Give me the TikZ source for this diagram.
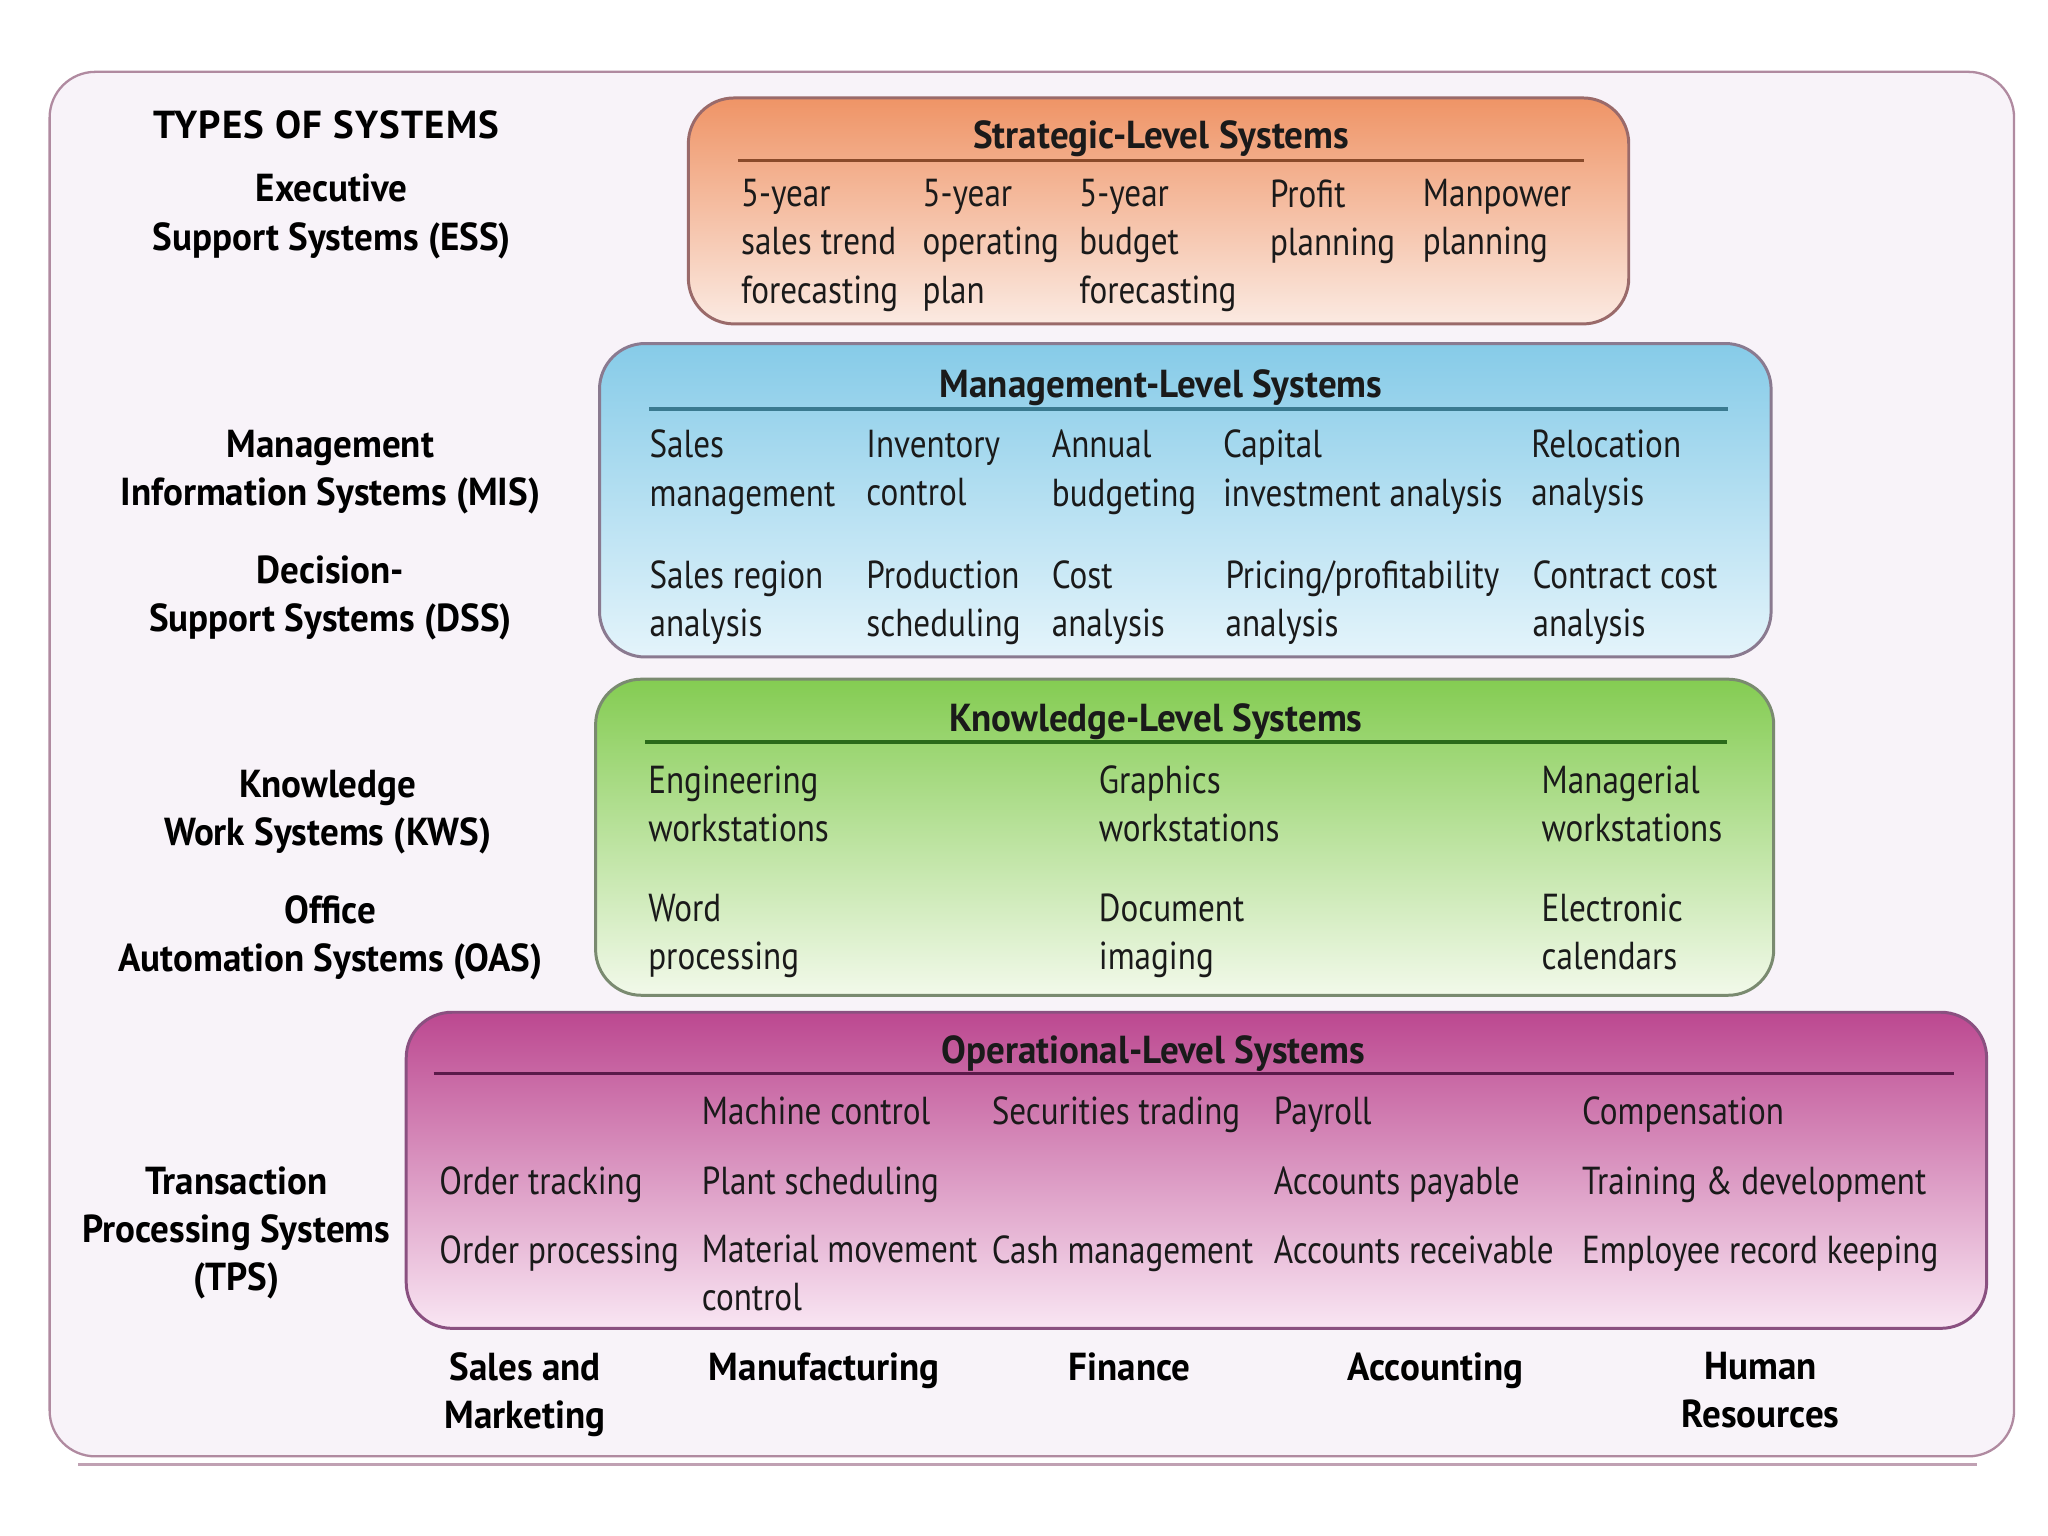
\documentclass[tikz,border=0pt]{standalone}
\usepackage{fontspec}
\setmainfont[FakeStretch=0.85]{PT Sans}
\newfontfamily\bfam[FakeStretch=0.95]{PT Sans}
\newfontfamily\tfam[FakeStretch=1.0,LetterSpace=3]{PT Sans}
\definecolor{frameFill}{HTML}{F8F3F9}
\definecolor{frameEdge}{HTML}{B08AA0}
\definecolor{strT}{HTML}{EF9466}
\definecolor{strB}{HTML}{FBEAE2}
\definecolor{strE}{HTML}{9A6A6A}
\definecolor{strR}{HTML}{8A4A2A}
\definecolor{mgtT}{HTML}{86CBE8}
\definecolor{mgtB}{HTML}{E4F4FB}
\definecolor{mgtE}{HTML}{8A7A90}
\definecolor{mgtR}{HTML}{3A7A90}
\definecolor{knoT}{HTML}{84CC52}
\definecolor{knoB}{HTML}{F2F9EA}
\definecolor{knoE}{HTML}{7A8A70}
\definecolor{knoR}{HTML}{2A6A1A}
\definecolor{opsT}{HTML}{BC4890}
\definecolor{opsM}{HTML}{DC94C6}
\definecolor{opsB}{HTML}{F9E6F3}
\definecolor{opsE}{HTML}{8A5080}
\definecolor{opsR}{HTML}{5A1A4A}
\definecolor{ink}{HTML}{1A1A1A}
\newcommand\itemfont{\fontsize{17}{21}\selectfont}
\newcommand\boldfont{\bfam\fontsize{17}{21}\selectfont\bfseries}
\newcommand\typesfont{\tfam\fontsize{17}{21}\selectfont\bfseries}
\begin{document}
\begin{tikzpicture}[x=0.02cm,y=-0.02cm,
  item/.style={anchor=north west,inner sep=0pt,align=left,font=\itemfont,text=ink,execute at begin node=\strut},
  lbl/.style={anchor=north,inner sep=0pt,align=center,font=\boldfont,text=black,execute at begin node=\strut},
  hdr/.style={anchor=base,inner sep=0pt,font=\boldfont,text=ink},
  boxedge/.style={line width=1.3pt,rounded corners=0.7cm},
  rulebar/.style={line width=1.6pt}]
\useasboundingbox (0,0) rectangle (1568,1176);
\fill[white] (0,0) rectangle (1568,1176);
% outer frame
\draw[frameEdge,line width=1pt,fill=frameFill,rounded corners=0.7cm] (38,55) rectangle (1542,1115);
\draw[frameEdge!80,line width=1.2pt] (60,1121) -- (1514,1121);

% Strategic
\shade[top color=strT,bottom color=strB,rounded corners=0.7cm] (527,75) rectangle (1247,248);
\draw[strE,boxedge] (527,75) rectangle (1247,248);
\node[hdr] (hstr) at (889,114) {Strategic-Level Systems};
\draw[strR,rulebar] (565,123) -- (1213,123);
\node[item] (s1) at (567,137) {5-year\\sales trend\\forecasting};
\node[item] (s2) at (706,137) {5-year\\operating\\plan};
\node[item] (s3) at (826,137) {5-year\\budget\\forecasting};
\node[item] (s4) at (972,137) {Profit\\planning};
\node[item] (s5) at (1089,137) {Manpower\\planning};

% Management
\shade[top color=mgtT,bottom color=mgtB,rounded corners=0.7cm] (459,263) rectangle (1356,503);
\draw[mgtE,boxedge] (459,263) rectangle (1356,503);
\node[hdr] (hmgt) at (889,304) {Management-Level Systems};
\draw[mgtR,rulebar] (497,313) -- (1323,313);
\node[item] (m1) at (497,329) {Sales\\management};
\node[item] (m2) at (663,329) {Inventory\\control};
\node[item] (m3) at (805,329) {Annual\\budgeting};
\node[item] (m4) at (936,329) {Capital\\investment analysis};
\node[item] (m5) at (1172,329) {Relocation\\analysis};
\node[item] (d1) at (497,429) {Sales region\\analysis};
\node[item] (d2) at (663,429) {Production\\scheduling};
\node[item] (d3) at (805,429) {Cost\\analysis};
\node[item] (d4) at (938,429) {Pricing/profitability\\analysis};
\node[item] (d5) at (1173,429) {Contract cost\\analysis};

% Knowledge
\shade[top color=knoT,bottom color=knoB,rounded corners=0.7cm] (456,520) rectangle (1358,762);
\draw[knoE,boxedge] (456,520) rectangle (1358,762);
\node[hdr] (hkno) at (885,560) {Knowledge-Level Systems};
\draw[knoR,rulebar] (494,568) -- (1322,568);
\node[item] (k1) at (496,586) {Engineering\\workstations};
\node[item] (k2) at (841,586) {Graphics\\workstations};
\node[item] (k3) at (1180,586) {Managerial\\workstations};
\node[item] (o1) at (496,684) {Word\\processing};
\node[item] (o2) at (841,684) {Document\\imaging};
\node[item] (o3) at (1180,684) {Electronic\\calendars};

% Operational
\shade[top color=opsT,middle color=opsM,bottom color=opsB,rounded corners=0.7cm] (311,775) rectangle (1521,1017);
\draw[opsE,boxedge] (311,775) rectangle (1521,1017);
\node[hdr] (hops) at (883,814) {Operational-Level Systems};
\draw[opsR,rulebar] (332,822) -- (1496,822);
\node[item] (t12) at (336,888) {Order tracking};
\node[item] (t13) at (336,941) {Order processing};
\node[item] (t21) at (537,835) {Machine control};
\node[item] (t22) at (537,888) {Plant scheduling};
\node[item] (t23) at (537,945) {Material movement\\control};
\node[item] (t31) at (759,835) {Securities trading};
\node[item] (t33) at (759,941) {Cash management};
\node[item] (t41) at (975,835) {Payroll};
\node[item] (t42) at (975,888) {Accounts payable};
\node[item] (t43) at (975,941) {Accounts receivable};
\node[item] (t51) at (1211,835) {Compensation};
\node[item] (t52) at (1211,888) {Training \& development};
\node[item] (t53) at (1211,941) {Employee record keeping};

% left labels
\node[lbl,font=\typesfont] (ltypes) at (250,80) {TYPES OF SYSTEMS};
\node[lbl] (less) at (254,133) {Executive\\Support Systems (ESS)};
\node[lbl] (lmis) at (253,329) {Management\\Information Systems (MIS)};
\node[lbl] (ldss) at (253,425) {Decision-\\Support Systems (DSS)};
\node[lbl] (lkws) at (251,589) {Knowledge\\Work Systems (KWS)};
\node[lbl] (loas) at (253,685) {Office\\Automation Systems (OAS)};
\node[lbl] (ltps) at (181,893) {Transaction\\Processing Systems\\(TPS)};

% bottom labels
\node[lbl] (fsm) at (402,1035) {Sales and\\Marketing};
\node[lbl] (fman) at (631,1031) {Manufacturing};
\node[lbl] (ffin) at (865,1031) {Finance};
\node[lbl] (facc) at (1099,1031) {Accounting};
\node[lbl] (fhr) at (1348,1035) {Human\\Resources};
\end{tikzpicture}
\end{document}
